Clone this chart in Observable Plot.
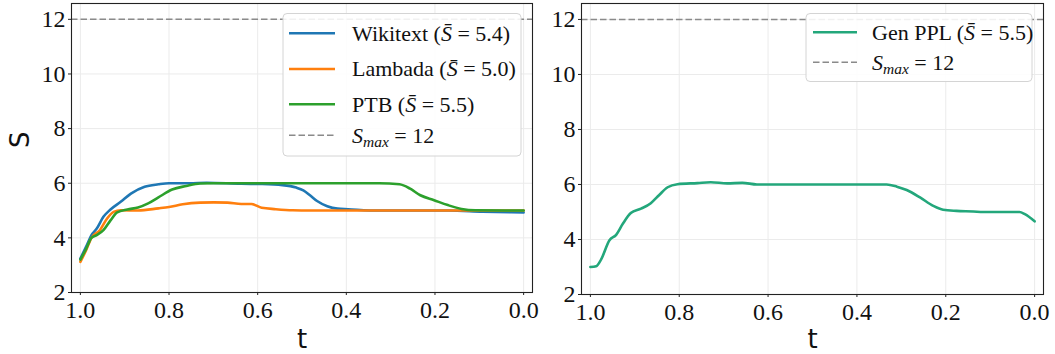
<!DOCTYPE html>
<html>
<head>
<meta charset="utf-8">
<script src="https://cdn.jsdelivr.net/npm/d3@7"></script>
<script src="https://cdn.jsdelivr.net/npm/@observablehq/plot@0.6"></script>
<style>
  html, body { margin: 0; padding: 0; background: white; overflow: hidden; }
  #wrap { display: flex; width: 1055px; height: 354px; }
  #wrap svg { display: block; }
</style>
</head>
<body>
<div id="wrap"></div>
<script>
// ---------- data ----------
const xTicks = [1.0, 0.8, 0.6, 0.4, 0.2, 0.0];
const yTicks = [2, 4, 6, 8, 10, 12];
const sMax = 12;

const seriesNames = ["Wikitext", "Lambada", "PTB"];
const seriesMeans = [5.4, 5.0, 5.5];
const seriesColors = ["#1f77b4", "#ff7f0e", "#2ca02c"];

const wikiT = [1.0, 0.985, 0.975, 0.963, 0.948, 0.932, 0.909, 0.886, 0.855, 0.824, 0.80, 0.754, 0.715, 0.637, 0.59, 0.544, 0.513, 0.497, 0.482, 0.466, 0.443, 0.42, 0.396, 0.326, 0.17, 0.093, 0.0];
const wikiS = [3.24, 3.75, 4.1, 4.34, 4.77, 5.04, 5.32, 5.62, 5.87, 5.96, 6.0, 6.0, 6.02, 5.98, 5.97, 5.93, 5.84, 5.74, 5.56, 5.35, 5.16, 5.07, 5.05, 5.0, 5.0, 4.96, 4.93];

const lambT = [1.0, 0.987, 0.975, 0.956, 0.940, 0.925, 0.909, 0.870, 0.824, 0.800, 0.769, 0.730, 0.699, 0.668, 0.637, 0.614, 0.591, 0.559, 0.521, 0.482, 0.3, 0.0];
const lambS = [3.12, 3.55, 4.0, 4.28, 4.7, 4.95, 5.01, 5.0, 5.08, 5.13, 5.23, 5.29, 5.30, 5.29, 5.24, 5.24, 5.10, 5.05, 5.01, 5.0, 5.0, 5.0];

const ptbT = [1.0, 0.987, 0.975, 0.963, 0.948, 0.932, 0.917, 0.894, 0.870, 0.847, 0.824, 0.793, 0.761, 0.730, 0.699, 0.326, 0.280, 0.256, 0.233, 0.202, 0.171, 0.140, 0.109, 0.0];
const ptbS = [3.2, 3.6, 4.0, 4.1, 4.28, 4.64, 4.93, 5.04, 5.11, 5.26, 5.48, 5.77, 5.9, 5.99, 6.0, 6.0, 5.96, 5.8, 5.56, 5.38, 5.2, 5.06, 5.01, 5.0];

const genName = "Gen PPL";
const genMean = 5.5;
const genColor = "#23a77b";
const genT = [1.0, 0.987, 0.976, 0.957, 0.942, 0.927, 0.909, 0.886, 0.864, 0.845, 0.826, 0.804, 0.759, 0.729, 0.692, 0.658, 0.625, 0.333, 0.31, 0.288, 0.258, 0.228, 0.206, 0.176, 0.138, 0.116, 0.034, 0.022, 0.0];
const genS = [3.0, 3.03, 3.27, 3.97, 4.17, 4.57, 4.96, 5.12, 5.32, 5.62, 5.9, 6.01, 6.05, 6.08, 6.04, 6.06, 6.0, 6.0, 5.92, 5.8, 5.53, 5.22, 5.08, 5.04, 5.02, 5.0, 5.0, 4.92, 4.66];

// ---------- helpers ----------
const zip = (ts, ss) => ts.map((t, i) => ({t, s: ss[i]}));
const leftSeries = [zip(wikiT, wikiS), zip(lambT, lambS), zip(ptbT, ptbS)];
const genData = zip(genT, genS);
const fmt1 = d3.format(".1f");
const SERIF = "'Liberation Serif', 'Times New Roman', serif";
const SANS = "'DejaVu Sans', sans-serif";
const gridColor = "#ebebeb";
const dashColor = "#8a8a8a";

function panel({width, marginLeft, marginRight, marginBottom, lines, ylabel}) {
  const marks = [
    Plot.gridX(xTicks, {x: d => d, stroke: gridColor, strokeOpacity: 1, strokeWidth: 1}),
    Plot.gridY(yTicks, {y: d => d, stroke: gridColor, strokeOpacity: 1, strokeWidth: 1}),
    Plot.ruleY([sMax], {stroke: dashColor, strokeWidth: 1.5, strokeDasharray: "6.5,3"}),
    ...lines.map(({data, color}) => Plot.line(data, {x: "t", y: "s", stroke: color, strokeWidth: 2.6, curve: "monotone-x", strokeLinejoin: "round"})),
    Plot.frame({stroke: "#222", strokeWidth: 1.1}),
    Plot.axisX(xTicks, {tickFormat: fmt1, tickSize: 3, tickPadding: 5, label: null, fontSize: 24, stroke: "#222"}),
    Plot.axisY(yTicks, {tickFormat: d3.format("d"), tickSize: 3, tickPadding: 3, label: null, fontSize: 24, stroke: "#222"}),
    Plot.text(["t"], {text: d => d, frameAnchor: "bottom", dy: marginBottom - 7, lineAnchor: "bottom", fontSize: 26, fill: "#111"})
  ];
  if (ylabel) {
    marks.push(Plot.text([ylabel], {text: d => d, frameAnchor: "left", rotate: -90, dx: -61, lineAnchor: "top", fontSize: 26, fill: "#111"}));
  }
  const svg = Plot.plot({
    width, height: 354,
    marginLeft, marginRight, marginTop: 3, marginBottom,
    x: {domain: [1.02, -0.02]},
    y: {domain: [2, 12.58]},
    style: {background: "white", color: "#111", fontSize: "24px"},
    marks
  });
  // fonts: serif tick labels, sans axis titles
  svg.querySelectorAll("text").forEach(el => {
    const s = el.textContent.trim();
    if (/^\d+(\.\d)?$/.test(s)) {
      el.style.fontFamily = SERIF;
      el.style.fontSize = "24px";
    } else {
      el.style.fontFamily = SANS;
      el.style.fontSize = "26px";
    }
  });
  return svg;
}

function addLegend(svg, box, rows) {
  const g = d3.select(svg).append("g");
  g.append("rect")
    .attr("x", box.x).attr("y", box.y).attr("width", box.w).attr("height", box.h)
    .attr("rx", 4).attr("fill", "white").attr("fill-opacity", 0.88)
    .attr("stroke", "#d4d4d4").attr("stroke-width", 1);
  rows.forEach((r, i) => {
    const y = box.rowY[i];
    g.append("line")
      .attr("x1", box.lx1).attr("x2", box.lx2).attr("y1", y).attr("y2", y)
      .attr("stroke", r.color).attr("stroke-width", r.dash ? 1.5 : 2.6)
      .attr("stroke-dasharray", r.dash ? "6.5,3" : null);
    const t = g.append("text")
      .attr("x", box.tx).attr("y", y + 7.3)
      .attr("text-anchor", "start")
      .style("font-family", SERIF).style("font-size", "22px").attr("fill", "#111");
    r.parts.forEach(p => {
      const ts = t.append("tspan").text(p.text);
      if (p.italic) ts.style("font-style", "italic");
      if (p.size) ts.style("font-size", p.size + "px");
      if (p.dy) ts.attr("dy", p.dy);
    });
  });
}

const meanParts = (name, m) => [
  {text: name + " ("},
  {text: "S\u0304", italic: true},
  {text: " = " + fmt1(m) + ")"}
];
const smaxParts = [
  {text: "S", italic: true},
  {text: "max", italic: true, size: 15.5, dy: 4},
  {text: " = " + sMax, dy: -4}
];

// ---------- left panel ----------
const left = panel({
  width: 540, marginLeft: 71, marginRight: 8, marginBottom: 62,
  lines: leftSeries.map((data, i) => ({data, color: seriesColors[i]})),
  ylabel: "S"
});
addLegend(left, {x: 283, y: 13.5, w: 238, h: 142.5, lx1: 289, lx2: 335, tx: 352, rowY: [33.3, 69, 104.3, 135.3]}, [
  ...seriesNames.map((n, i) => ({color: seriesColors[i], parts: meanParts(n, seriesMeans[i])})),
  {color: dashColor, dash: true, parts: smaxParts}
]);

// ---------- right panel ----------
const right = panel({
  width: 515, marginLeft: 41, marginRight: 12, marginBottom: 60,
  lines: [{data: genData, color: genColor}],
  ylabel: null
});
addLegend(right, {x: 266, y: 13.5, w: 226, h: 68, lx1: 273, lx2: 317, tx: 332, rowY: [32.3, 62.3]}, [
  {color: genColor, parts: meanParts(genName, genMean)},
  {color: dashColor, dash: true, parts: smaxParts}
]);

const wrap = document.getElementById("wrap");
wrap.appendChild(left);
wrap.appendChild(right);
</script>
</body>
</html>
